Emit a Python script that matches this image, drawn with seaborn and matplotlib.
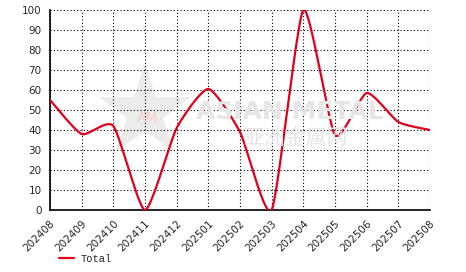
import numpy as np
import pandas as pd
import matplotlib
matplotlib.use("Agg")
import matplotlib.pyplot as plt
import seaborn as sns
from matplotlib.lines import Line2D

months = ["202408", "202409", "202410", "202411", "202412", "202501", "202502",
          "202503", "202504", "202505", "202506", "202507", "202508"]
total = [55, 38, 42, 0, 41, 60.5, 39, 0, 100, 37.5, 58.5, 44, 40]
y_ticks = list(range(0, 101, 10))

sns.set_style("white")
plt.rcParams['font.family'] = ['DejaVu Sans', 'Noto Sans CJK SC']

fig = plt.figure(figsize=(4.66, 2.72), dpi=100)
ax = fig.add_axes([50/466, 1-210/272, 380/466, 200/272])

# smooth 2-D cardinal spline rendering of the series
px = np.arange(len(total), dtype=float)
py = np.array(total, dtype=float)
s = 0.3
mx = np.zeros_like(px); my = np.zeros_like(py)
mx[1:-1] = s * (px[2:] - px[:-2]); my[1:-1] = s * (py[2:] - py[:-2])
mx[0] = s * (px[1] - px[0]); my[0] = s * (py[1] - py[0])
mx[-1] = s * (px[-1] - px[-2]); my[-1] = s * (py[-1] - py[-2])
xs, ys = [], []
for i in range(len(py) - 1):
    t = np.linspace(0, 1, 40, endpoint=(i == len(py) - 2))
    h00 = 2*t**3 - 3*t**2 + 1
    h10 = t**3 - 2*t**2 + t
    h01 = -2*t**3 + 3*t**2
    h11 = t**3 - t**2
    xs.extend(h00*px[i] + h10*mx[i] + h01*px[i+1] + h11*mx[i+1])
    ys.extend(h00*py[i] + h10*my[i] + h01*py[i+1] + h11*my[i+1])
df = pd.DataFrame({"x": xs, "y": ys, "series": "Total"})

# watermark
fig.add_artist(Line2D([145/466], [1-112/272], marker="*", markersize=70, color="#ececec",
                      markeredgewidth=0, transform=fig.transFigure, zorder=0))
fig.text(148/466, 1-118/272, "AM", fontsize=10, color="#f8cccc", ha="center", va="center", zorder=0)
fig.text(290/466, 1-112/272, "ASIAN METAL", fontsize=18, color="#e6e6e6", ha="center", va="center",
         fontweight="bold", zorder=0)
fig.text(295/466, 1-138/272, "亚洲金属网", fontsize=15, color="#e6e6e6", ha="center", va="center",
         family=['Noto Sans CJK SC', 'DejaVu Sans'], zorder=0)
ax.patch.set_alpha(0)

sns.lineplot(data=df, x="x", y="y", ax=ax, color="#E0001B", linewidth=1.6, legend=False,
             sort=False, estimator=None, zorder=3)

ax.set_xlim(0, len(months) - 1)
ax.set_ylim(0, 100)
ax.set_xticks(px)
ax.set_xticklabels(months, rotation=45, ha="right", rotation_mode="anchor", fontsize=7.5)
ax.set_yticks(y_ticks)
ax.set_yticklabels([str(v) for v in y_ticks], fontsize=7.5)
ax.set_xlabel("")
ax.set_ylabel("")
ax.grid(True, color="black", linestyle=(0, (1, 2)), linewidth=0.8)
ax.tick_params(axis="both", direction="out", length=4, width=1, color="black", pad=2)
for sp in ["top", "right"]:
    ax.spines[sp].set_visible(False)
for sp in ["left", "bottom"]:
    ax.spines[sp].set_color("black")
    ax.spines[sp].set_linewidth(1.2)

h = [Line2D([0], [0], color="#E0001B", linewidth=1.6)]
fig.legend(h, ["Total"], loc="center left", bbox_to_anchor=(50/466, 1-259/272), frameon=False,
           prop={"family": "Liberation Mono", "size": 7.5}, handlelength=1.45, handletextpad=0.55)

fig.savefig("out.png", dpi=100)
